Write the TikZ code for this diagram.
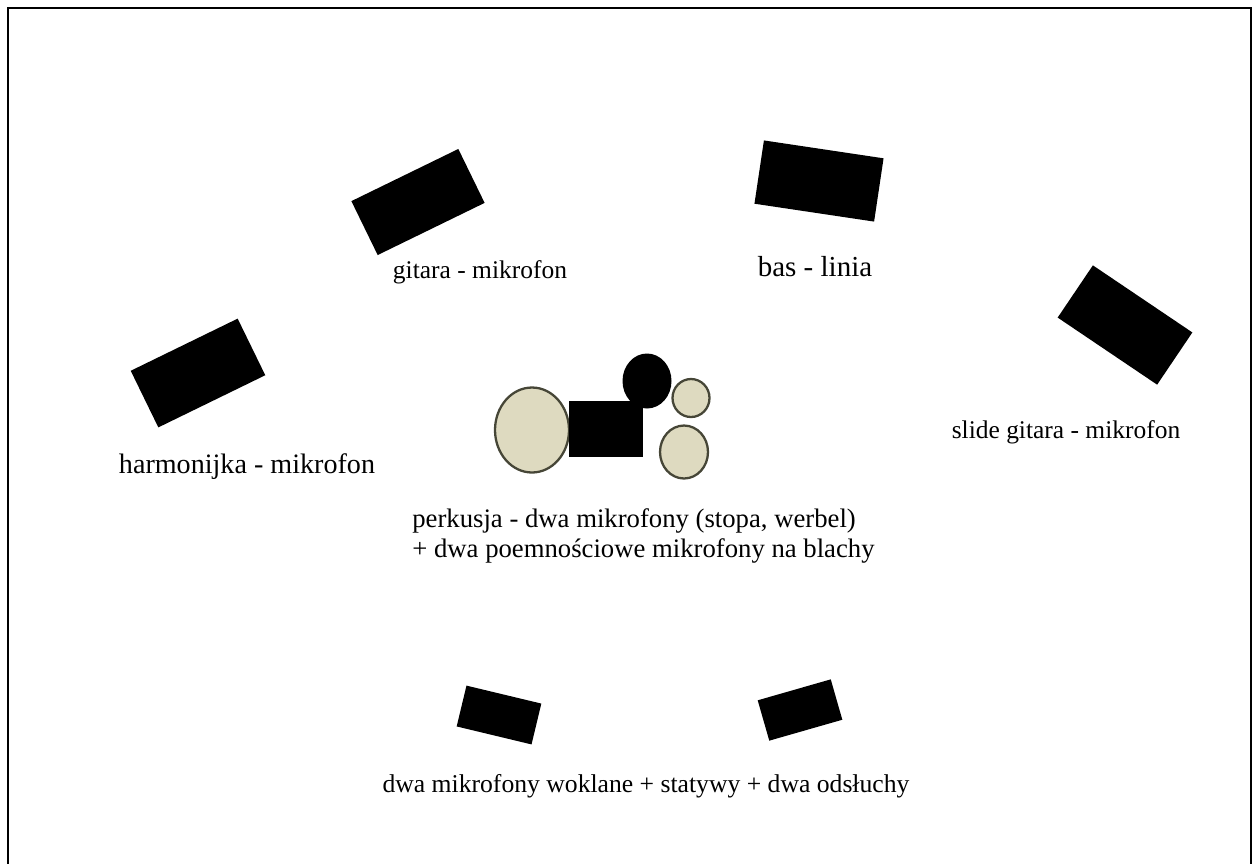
\documentclass[tikz,border=0pt]{standalone}
\usepackage{fontspec}
\setmainfont{Liberation Serif}
\usepackage{tikz}
\usepackage{xcolor}
\usetikzlibrary{shapes.geometric}

\definecolor{drumfill}{RGB}{222,218,192}
\definecolor{drumline}{RGB}{70,70,55}

\tikzset{
  amp/.style={rectangle, fill=black, inner sep=0pt},
  drum/.style={ellipse, fill=drumfill, draw=drumline, line width=1.3pt, inner sep=0pt},
  lbl/.style={font=\fontsize{14.5}{18}\selectfont, inner sep=0pt}
}

\begin{document}
\begin{tikzpicture}[x=0.02cm, y=-0.02cm]
\useasboundingbox (0,0) rectangle (1256,863);
% rama sceny
\draw[line width=1.6pt] (8,870) -- (8,8) -- (1251,8) -- (1251,870);

% wzmacniacze
\node[amp, minimum width=2.38cm, minimum height=1.2cm, rotate=26] (gitara) at (418,202) {};
\node[amp, minimum width=2.42cm, minimum height=1.28cm, rotate=-8.5] (bas) at (819,181) {};
\node[amp, minimum width=2.38cm, minimum height=1.26cm, rotate=26] (harmonijka) at (198,373) {};
\node[amp, minimum width=2.4cm, minimum height=1.26cm, rotate=-34] (slide) at (1125,325) {};
\node[amp, minimum width=1.54cm, minimum height=0.84cm, rotate=-13.5] (odsluch1) at (499,715) {};
\node[amp, minimum width=1.52cm, minimum height=0.84cm, rotate=16] (odsluch2) at (800,710) {};

% perkusja
\node[drum, minimum width=1.48cm, minimum height=1.7cm] (stopa) at (532,430) {};
\node[amp, minimum width=1.48cm, minimum height=1.12cm] (werbel) at (606,429) {};
\node[ellipse, fill=black, inner sep=0pt, minimum width=0.98cm, minimum height=1.1cm] (tom) at (647,381) {};
\node[drum, minimum width=0.74cm, minimum height=0.76cm] (blacha1) at (691,398) {};
\node[drum, minimum width=0.96cm, minimum height=1.06cm] (blacha2) at (684,452) {};

% opisy
\node[lbl] (tgitara) at (480,272) {gitara - mikrofon};
\node[lbl, font=\fontsize{16.5}{20}\selectfont] (tbas) at (815,267) {bas - linia};
\node[lbl, font=\fontsize{16}{20}\selectfont] (tharm) at (247,467) {harmonijka - mikrofon};
\node[lbl] (tslide) at (1066,432) {slide gitara - mikrofon};
\node[lbl, font=\fontsize{15.2}{17}\selectfont, anchor=north west, align=left] (tperk) at (412,508) {perkusja - dwa mikrofony (stopa, werbel)\\+ dwa poemnościowe mikrofony na blachy};
\node[lbl, font=\fontsize{14.6}{18}\selectfont] (twokal) at (646,786) {dwa mikrofony woklane + statywy + dwa odsłuchy};
\end{tikzpicture}
\end{document}
